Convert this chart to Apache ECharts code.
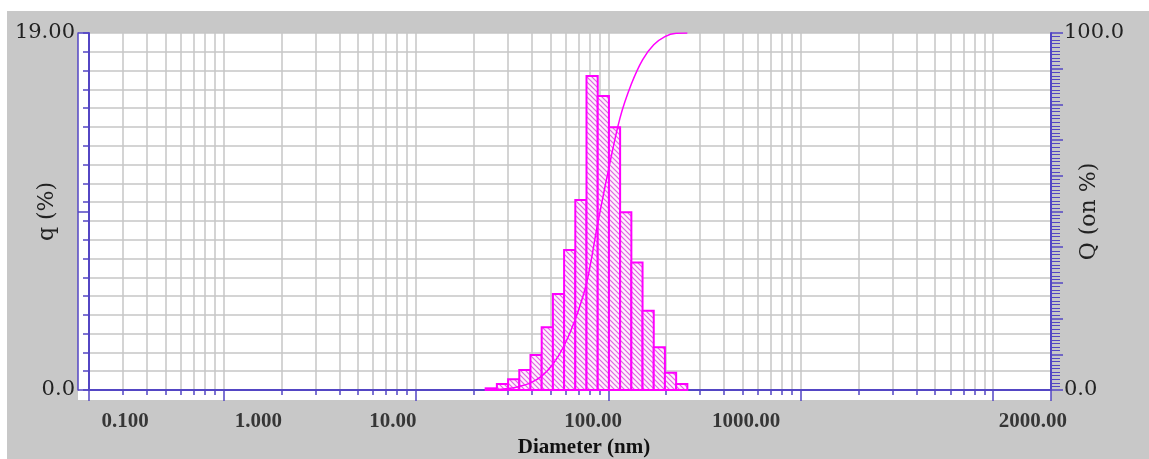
<!DOCTYPE html>
<html><head><meta charset="utf-8">
<script src="https://cdn.jsdelivr.net/npm/echarts@6/dist/echarts.min.js"></script>
<style>html,body{margin:0;padding:0;background:#fff}#c{width:1149px;height:459px}</style>
</head><body><div id="c"></div>
<script>
// ---- data ----
const binEdges = [23.05, 26.36, 30.14, 34.47, 39.41, 45.07, 51.54, 58.93, 67.39, 77.06, 88.12, 100.8, 115.2, 131.8, 150.7, 172.3, 197.0, 225.3, 257.6];
const qValues = [0.09, 0.32, 0.57, 1.06, 1.86, 3.34, 5.11, 7.45, 10.11, 16.71, 15.65, 13.98, 9.46, 6.78, 4.22, 2.27, 0.92, 0.32];
const cumValues = [0, 0.1, 0.4, 1.0, 2.0, 3.9, 7.2, 12.4, 19.8, 29.9, 46.6, 62.3, 76.3, 85.7, 92.5, 96.7, 99.0, 99.9, 100];
const xTickLabels = ['0.100', '1.000', '10.00', '100.00', '1000.00', '2000.00'];
const xTickLabelAt = [0.308, 1.52, 7.6, 83.3, 520, 16100];
const xRange = [0.2, 20000];
const qRange = [0, 19];
const cumRange = [0, 100];
const leftLabels = { 0: '0.0', 19: '19.00' };
const rightLabels = { 0: '0.0', 100: '100.0' };

// ---- styles ----
const BLUE = '#5346c4';
const GRID = '#c6c6c6';
const MAG = '#ff00ff';

const pat = document.createElement('canvas');
pat.width = 5; pat.height = 5;
const g = pat.getContext('2d');
g.fillStyle = '#fdf2fd'; g.fillRect(0, 0, 5, 5);
g.strokeStyle = '#e065e0'; g.lineWidth = 1.2;
g.beginPath();
g.moveTo(-1, -1); g.lineTo(6, 6);
g.moveTo(-1, 4); g.lineTo(1, 6);
g.moveTo(4, -1); g.lineTo(6, 1);
g.stroke();

const chart = echarts.init(document.getElementById('c'), null, { renderer: 'canvas' });
const serif = 'DejaVu Serif';
const tserif = 'Liberation Serif';

chart.setOption({
  animation: false,
  backgroundColor: '#c8c8c8',
  graphic: { elements: [
    { type: 'rect', z: -100, silent: true, shape: { x: 0, y: 0, width: 1149, height: 11 }, style: { fill: '#ffffff' } },
    { type: 'rect', z: -100, silent: true, shape: { x: 0, y: 0, width: 7, height: 459 }, style: { fill: '#ffffff' } },
    { type: 'rect', z: -100, silent: true, shape: { x: 78, y: 33, width: 973, height: 367 }, style: { fill: '#ffffff' } }
  ] },
  grid: { left: 89, right: 98, top: 33, bottom: 69, containLabel: false, outerBoundsMode: 'none' },
  xAxis: [
    {
      type: 'log', logBase: 10, min: xRange[0], max: xRange[1],
      axisLine: { lineStyle: { color: BLUE, width: 2 } },
      axisTick: { show: true, length: 11, lineStyle: { color: BLUE, width: 1.5 } },
      minorTick: { show: true, splitNumber: 9, length: 5, lineStyle: { color: BLUE, width: 1.5 } },
      axisLabel: { show: false },
      splitLine: { show: true, lineStyle: { color: GRID, width: 1.5 } },
      minorSplitLine: { show: true, lineStyle: { color: GRID, width: 1.5 } },
      name: 'Diameter (nm)', nameLocation: 'middle', nameGap: 47, nameMoveOverlap: false,
      nameTextStyle: { fontFamily: tserif, fontWeight: 'bold', fontSize: 21, color: '#111', padding: [0, 0, 0, 28] }
    },
    {
      type: 'log', logBase: 10, min: xRange[0], max: xRange[1], position: 'top',
      axisLine: { lineStyle: { color: BLUE, width: 2 } },
      axisTick: { show: false }, axisLabel: { show: false }, splitLine: { show: false }
    }
  ],
  yAxis: [
    {
      type: 'value', min: qRange[0], max: qRange[1], interval: 1, position: 'left',
      axisLine: { show: true, lineStyle: { color: BLUE, width: 2 } },
      axisTick: { show: true, length: 6, lineStyle: { color: BLUE, width: 1.5 } },
      axisLabel: { margin: 14, fontFamily: serif, fontSize: 21, color: '#222',
        formatter: v => (leftLabels[v] !== undefined ? leftLabels[v] : '') },
      splitLine: { show: true, lineStyle: { color: GRID, width: 1.5 } },
      name: 'q (%)', nameLocation: 'middle', nameRotate: 90, nameGap: 31, nameMoveOverlap: false,
      nameTextStyle: { fontFamily: serif, fontSize: 22, color: '#222' }
    },
    {
      type: 'value', min: cumRange[0], max: cumRange[1], interval: 10, position: 'right',
      axisLine: { show: true, lineStyle: { color: BLUE, width: 2 } },
      axisTick: { show: true, length: 12, lineStyle: { color: BLUE, width: 1.5 } },
      minorTick: { show: true, splitNumber: 10, length: 9, lineStyle: { color: BLUE, width: 1 } },
      axisLabel: { margin: 13, fontFamily: serif, fontSize: 21, color: '#222',
        formatter: v => (rightLabels[v] !== undefined ? rightLabels[v] : '') },
      splitLine: { show: false },
      name: 'Q (on %)', nameLocation: 'middle', nameRotate: 90, nameGap: 27, nameMoveOverlap: false,
      nameTextStyle: { fontFamily: serif, fontSize: 22, color: '#222' }
    },
    {
      type: 'value', min: qRange[0], max: qRange[1], interval: 9.5, position: 'left', offset: 11,
      axisLine: { show: true, lineStyle: { color: BLUE, width: 1.5 } },
      axisTick: { show: true, inside: true, length: 11, lineStyle: { color: BLUE, width: 1.5 } },
      axisLabel: { show: false }, splitLine: { show: false }
    }
  ],
  series: [
    {
      type: 'custom', xAxisIndex: 0, yAxisIndex: 0, silent: true, z: 3,
      data: qValues.map((q, i) => [binEdges[i], binEdges[i + 1], q]),
      encode: { x: [0, 1], y: 2 },
      renderItem: function (params, api) {
        const p0 = api.coord([api.value(0), api.value(2)]);
        const p1 = api.coord([api.value(1), 0]);
        return {
          type: 'rect',
          shape: { x: p0[0], y: p0[1], width: p1[0] - p0[0], height: p1[1] - p0[1] },
          style: { fill: { image: pat, repeat: 'repeat' }, stroke: MAG, lineWidth: 2 }
        };
      }
    },
    {
      type: 'line', xAxisIndex: 0, yAxisIndex: 1, silent: true, z: 4,
      data: binEdges.map((e, i) => [e, cumValues[i]]),
      smooth: 0.35, symbol: 'none',
      lineStyle: { color: MAG, width: 1.5 }
    },
    {
      type: 'scatter', xAxisIndex: 0, yAxisIndex: 0, silent: true, symbolSize: 0,
      data: xTickLabels.map((t, i) => [xTickLabelAt[i], 0, t]),
      label: { show: true, position: 'inside', offset: [0, 32], formatter: p => p.data[2],
        fontFamily: tserif, fontWeight: 'bold', fontSize: 21, color: '#111' }
    }
  ]
});
</script></body></html>
